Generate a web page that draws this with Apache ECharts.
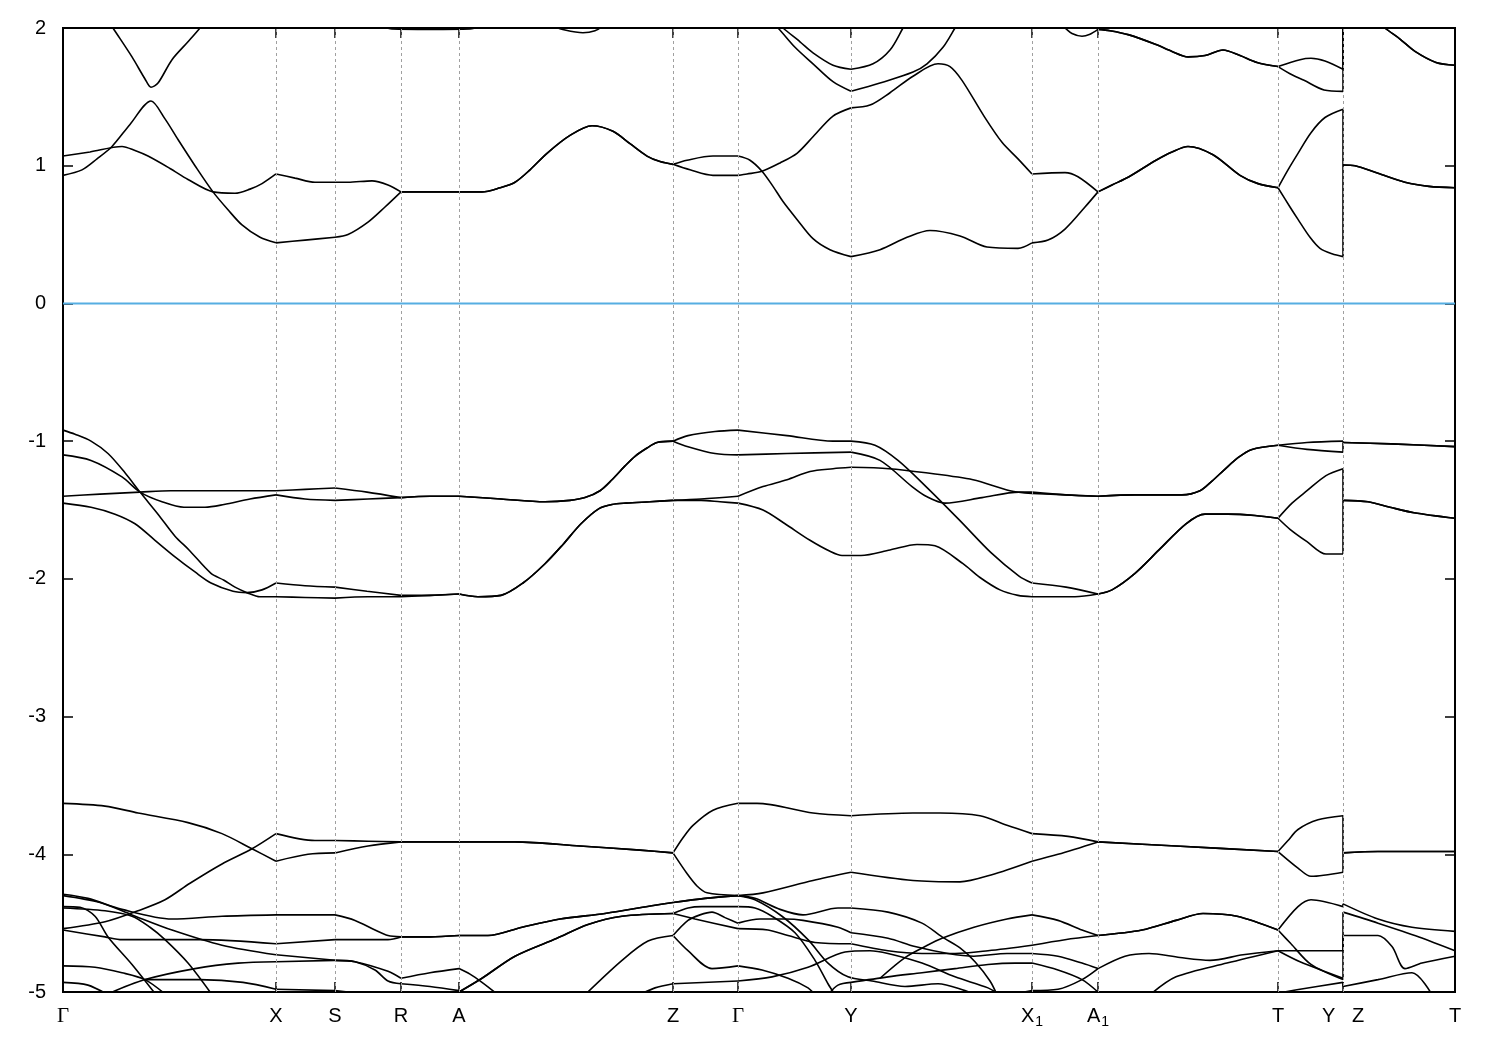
<!DOCTYPE html>
<html>
<head>
<meta charset="utf-8">
<script src="https://cdn.jsdelivr.net/npm/echarts@6/dist/echarts.min.js"></script>
<style>html,body{margin:0;padding:0;background:#fff;}#chart{width:1500px;height:1050px;}</style>
</head>
<body>
<div id="chart"></div>
<script>
// ---- high-symmetry path (k positions in path-length units) ----
const kTicks  = [63, 276, 335, 401, 459, 673, 738, 851, 1032, 1098, 1278, 1343, 1455];
const kLabels = ['Γ','X','S','R','A','Z','Γ','Y','X1','A1','T','YZ','T'];
const dashedK = [276, 335, 401, 459, 673, 738, 851, 1032, 1098, 1278, 1343];
const energyMin = -5, energyMax = 2, energyStep = 1;
const fermiLevel = 0;

// ---- shared band segments [k, E(eV)] ----
const cRZ = [[401,0.81],[430,0.81],[459,0.81],[482,0.81],[500,0.84],[515,0.88],[530,0.97],[547,1.09],[570,1.22],[592,1.29],[613,1.25],[630,1.16],[647,1.07],[660,1.03],[673,1.01]];
const cA1T = [[1098,0.81],[1112,0.86],[1129,0.92],[1156,1.04],[1172,1.10],[1188,1.14],[1213,1.08],[1240,0.93],[1258,0.87],[1278,0.84]];
const cZT = [[1343,1.005],[1355,1.00],[1378,0.945],[1405,0.88],[1429,0.85],[1455,0.84]];
const uA1T = [[1098,1.99],[1110,1.98],[1129,1.95],[1156,1.88],[1172,1.83],[1188,1.79],[1205,1.80],[1223,1.84],[1240,1.80],[1257,1.75],[1278,1.72]];
const uZT = [[1343,2.3],[1370,2.1],[1385,2.0],[1400,1.92],[1415,1.83],[1436,1.75],[1455,1.73]];
const vAZ = [[459,-2.11],[478,-2.13],[501,-2.12],[523,-2.03],[545,-1.89],[563,-1.75],[581,-1.60],[599,-1.49],[612,-1.46],[626,-1.45],[650,-1.44],[673,-1.43]];
const vRZ = [[401,-1.41],[430,-1.40],[459,-1.40],[501,-1.42],[545,-1.44],[570,-1.43],[585,-1.41],[600,-1.36],[612,-1.28],[625,-1.18],[635,-1.11],[647,-1.05],[657,-1.01],[673,-1.00]];
const vA1Tlow = [[1098,-2.11],[1112,-2.08],[1135,-1.96],[1159,-1.79],[1186,-1.60],[1205,-1.53],[1228,-1.53],[1255,-1.54],[1278,-1.56]];
const vA1Thigh = [[1098,-1.40],[1135,-1.39],[1182,-1.39],[1200,-1.36],[1212,-1.29],[1224,-1.21],[1238,-1.12],[1252,-1.06],[1278,-1.03]];
const vZT1 = [[1343,-1.01],[1391,-1.02],[1455,-1.04]];
const vZT2 = [[1343,-1.43],[1368,-1.44],[1390,-1.48],[1414,-1.52],[1455,-1.56]];
const bRZ = [[401,-3.91],[459,-3.91],[515,-3.91],[580,-3.94],[640,-3.97],[673,-3.99]];
const bA1T = [[1098,-3.91],[1176,-3.94],[1278,-3.98]];
const bZT = [[1343,-3.99],[1378,-3.98],[1455,-3.98]];
const dRA = [[401,-4.60],[430,-4.60],[459,-4.59]];
const dAZ = [[488,-4.59],[522,-4.53],[560,-4.47],[605,-4.43],[655,-4.37],[673,-4.35],[705,-4.32],[738,-4.30]];
const dAZ2 = [[455,-5.02],[459,-5.0],[482,-4.90],[515,-4.74],[557,-4.61],[588,-4.51],[622,-4.45],[673,-4.43]];
const dA1T = [[1098,-4.59],[1142,-4.55],[1176,-4.48],[1203,-4.43],[1237,-4.45],[1278,-4.55]];
const dZT1 = [[1343,-4.36],[1378,-4.47],[1412,-4.53],[1455,-4.56]];
const dZT2 = [[1343,-4.42],[1378,-4.50],[1419,-4.60],[1455,-4.70]];
const dZT3 = [[1343,-4.59],[1378,-4.59],[1392,-4.67],[1405,-4.83],[1422,-4.79],[1455,-4.74]];
const dZT4 = [[1343,-4.96],[1378,-4.91],[1412,-4.86],[1432,-5.02]];

// ---- conduction bands ----
const bandC1 = [[63,0.93],[82,0.97],[97,1.05],[112,1.14],[130,1.30],[151,1.47],[165,1.34],[178,1.19],[195,1.00],[213,0.81],[228,0.68],[242,0.57],[260,0.48],[276,0.44],[305,0.46],[335,0.48],[348,0.50],[368,0.59],[385,0.70], ...cRZ, [690,0.97],[713,0.93],[738,0.93],[747,0.94],[762,0.96],[780,1.02],[797,1.09],[813,1.21],[833,1.36],[851,1.42],[870,1.44],[890,1.53],[913,1.65],[938,1.74],[950,1.72],[962,1.62],[984,1.36],[1002,1.17],[1018,1.05],[1032,0.94],[1065,0.95],[1078,0.92], ...cA1T, [1290,0.70],[1298,0.61],[1310,0.48],[1320,0.40],[1332,0.36],[1343,0.34], ...cZT];
const bandC2 = [[63,1.07],[90,1.10],[122,1.14],[135,1.11],[148,1.07],[170,0.98],[188,0.90],[213,0.81],[235,0.80],[250,0.83],[262,0.87],[276,0.94],[295,0.91],[315,0.88],[348,0.88],[372,0.89],[388,0.86], ...cRZ, [687,1.04],[713,1.07],[738,1.07],[750,1.04],[762,0.96],[773,0.85],[783,0.74],[797,0.61],[813,0.47],[830,0.39],[851,0.34],[880,0.39],[907,0.48],[930,0.53],[960,0.49],[987,0.41],[1018,0.40],[1032,0.44],[1048,0.46],[1065,0.54],[1085,0.70], ...cA1T, [1288,0.97],[1298,1.09],[1311,1.24],[1325,1.35],[1343,1.41], ...cZT];
const bandU1 = [[1058,2.03],[1065,2.0],[1072,1.96],[1082,1.94],[1090,1.955], ...uA1T, [1300,1.77],[1311,1.78],[1325,1.76],[1343,1.70], ...uZT];
const bandU2 = [[1093,2.05], ...uA1T, [1292,1.66],[1304,1.62],[1324,1.55],[1343,1.54], ...uZT];
const bandUG = [[106,2.08],[113,2.0],[132,1.79],[145,1.63],[151,1.57],[158,1.60],[172,1.77],[188,1.90],[200,2.0],[205,2.05]];
const bandURA = [[378,2.03],[392,1.993],[430,1.99],[470,1.993],[485,2.03]];
const bandUdip = [[550,2.02],[565,1.985],[583,1.965],[595,1.98],[604,2.02]];
const bandUY1 = [[776,2.05],[783,2.0],[800,1.90],[813,1.82],[833,1.73],[851,1.70],[873,1.74],[890,1.84],[903,2.0],[907,2.05]];
const bandUY2 = [[770,2.05],[778,2.0],[795,1.86],[813,1.74],[833,1.61],[851,1.54],[880,1.60],[913,1.68],[927,1.74],[943,1.86],[955,2.0],[959,2.05]];

// ---- valence bands near -1 .. -2 eV ----
const bandV1 = [[63,-0.92],[75,-0.95],[91,-1.00],[108,-1.09],[125,-1.23],[140,-1.37],[158,-1.53],[175,-1.69],[189,-1.79],[211,-1.96],[224,-2.01],[235,-2.06],[247,-2.10],[260,-2.13],[276,-2.13],[305,-2.135],[335,-2.14],[368,-2.13],[401,-2.13],[430,-2.12], ...vAZ, [701,-1.43],[720,-1.44],[738,-1.45],[763,-1.50],[785,-1.60],[810,-1.72],[830,-1.80],[842,-1.83],[851,-1.83],[861,-1.83],[890,-1.79],[917,-1.75],[935,-1.76],[963,-1.89],[980,-1.99],[1000,-2.08],[1018,-2.12],[1032,-2.13],[1075,-2.13], ...vA1Tlow, [1290,-1.64],[1307,-1.73],[1326,-1.82],[1343,-1.82], ...vZT2];
const bandV2 = [[63,-1.10],[91,-1.14],[122,-1.26],[140,-1.37],[162,-1.44],[184,-1.48],[205,-1.48],[224,-1.46],[250,-1.42],[276,-1.39],[305,-1.42],[335,-1.43],[368,-1.42], ...vRZ, [688,-0.96],[715,-0.93],[738,-0.92],[787,-0.96],[833,-1.00],[851,-1.00],[875,-1.03],[898,-1.14],[926,-1.33],[959,-1.57],[991,-1.81],[1019,-1.98],[1032,-2.03],[1066,-2.06], ...vA1Tlow, [1292,-1.45],[1307,-1.36],[1326,-1.25],[1343,-1.20], ...vZT2];
const bandV3 = [[63,-1.40],[100,-1.385],[140,-1.37],[171,-1.36],[220,-1.36],[276,-1.36],[305,-1.35],[335,-1.34],[367,-1.37], ...vRZ, [688,-1.04],[715,-1.09],[738,-1.10],[787,-1.09],[851,-1.08],[880,-1.14],[912,-1.33],[926,-1.40],[945,-1.45],[982,-1.41],[1019,-1.37],[1032,-1.37],[1066,-1.39], ...vA1Thigh, [1307,-1.01],[1343,-1.00], ...vZT1];
const bandV4 = [[63,-1.45],[91,-1.48],[115,-1.53],[135,-1.60],[155,-1.72],[175,-1.84],[195,-1.95],[211,-2.03],[233,-2.09],[247,-2.10],[262,-2.08],[276,-2.03],[305,-2.05],[335,-2.06],[367,-2.09],[401,-2.12],[430,-2.12], ...vAZ, [701,-1.42],[738,-1.40],[763,-1.33],[787,-1.28],[810,-1.22],[833,-1.20],[851,-1.19],[889,-1.20],[926,-1.23],[973,-1.28],[1010,-1.36],[1032,-1.38],[1065,-1.39], ...vA1Thigh, [1307,-1.06],[1343,-1.08], ...vZT1];

// ---- deep bands near -3.6 .. -5 eV ----
const bandB1 = [[63,-3.63],[105,-3.65],[138,-3.70],[188,-3.77],[222,-3.85],[252,-3.96],[276,-4.05],[308,-4.00],[335,-3.99],[368,-3.94], ...bRZ, [683,-3.88],[693,-3.79],[713,-3.68],[738,-3.63],[757,-3.63],[813,-3.70],[851,-3.72],[913,-3.70],[940,-3.70],[980,-3.72],[1007,-3.79],[1032,-3.85],[1068,-3.87], ...bA1T, [1288,-3.90],[1298,-3.82],[1318,-3.75],[1343,-3.72], ...bZT];
const bandB2 = [[63,-4.54],[105,-4.49],[138,-4.41],[165,-4.33],[190,-4.21],[222,-4.07],[252,-3.96],[276,-3.85],[315,-3.90],[335,-3.90],[368,-3.905], ...bRZ, [687,-4.14],[697,-4.23],[707,-4.28],[738,-4.30],[763,-4.28],[813,-4.19],[851,-4.13],[913,-4.19],[960,-4.20],[991,-4.15],[1032,-4.05],[1058,-4.00], ...bA1T, [1298,-4.10],[1311,-4.16],[1343,-4.13], ...bZT];
const bandD1 = [[63,-4.29],[88,-4.32],[122,-4.40],[172,-4.47],[222,-4.45],[276,-4.44],[335,-4.44],[355,-4.48],[375,-4.55],[388,-4.59], ...dRA, ...dAZ, [755,-4.33],[782,-4.45],[808,-4.62],[828,-4.79],[848,-4.89],[872,-4.92],[905,-4.96],[938,-4.94],[965,-4.99],[975,-5.02]];
const bandD2 = [[63,-4.55],[105,-4.60],[122,-4.62],[200,-4.62],[276,-4.65],[335,-4.62],[388,-4.62], ...dRA, ...dAZ, [755,-4.32],[780,-4.40],[803,-4.44],[838,-4.39],[851,-4.39],[888,-4.42],[922,-4.50],[942,-4.60],[960,-4.68],[975,-4.78],[990,-4.92],[997,-5.02]];
const bandD3 = [[63,-4.30],[100,-4.35],[132,-4.44],[172,-4.55],[222,-4.66],[276,-4.73],[335,-4.77],[355,-4.78],[388,-4.85],[401,-4.90],[430,-4.86],[459,-4.83],[470,-4.87],[482,-4.93],[498,-5.02]];
const bandD4 = [[106,-5.02],[145,-4.91],[195,-4.83],[238,-4.79],[276,-4.78],[335,-4.77],[355,-4.78],[375,-4.84],[388,-4.92],[401,-4.94],[430,-4.96],[459,-4.99],[472,-5.02]];
const bandD5 = [[63,-4.38],[80,-4.385],[95,-4.45],[108,-4.60],[132,-4.80],[156,-5.02]];
const bandD6 = [[63,-4.39],[105,-4.41],[132,-4.45],[150,-4.53],[165,-4.62],[188,-4.79],[212,-5.02]];
const bandD7 = [[63,-4.81],[95,-4.82],[122,-4.86],[145,-4.91],[166,-5.02]];
const bandD8 = [[63,-4.93],[88,-4.95],[108,-5.02]];
const bandD9 = [[145,-4.91],[200,-4.91],[243,-4.93],[276,-4.98],[335,-4.99],[372,-5.02]];
const bandD10 = [...dAZ2, [688,-4.39],[702,-4.38],[738,-4.38],[755,-4.39],[772,-4.45],[795,-4.57],[815,-4.77],[828,-4.94],[835,-5.02]];
const bandD11 = [...dAZ2, [695,-4.47],[738,-4.54],[768,-4.55],[788,-4.59],[815,-4.64],[851,-4.65],[888,-4.70],[922,-4.72],[955,-4.72],[988,-4.70],[1032,-4.66],[1065,-4.62], ...dA1T, [1298,-4.38],[1311,-4.33],[1343,-4.38], ...dZT1];
const bandD12 = [[585,-5.02],[622,-4.77],[648,-4.63],[673,-4.59],[688,-4.48],[700,-4.44],[712,-4.42],[725,-4.46],[738,-4.50],[760,-4.47],[785,-4.47],[803,-4.48],[838,-4.53],[851,-4.57],[888,-4.61],[915,-4.67],[948,-4.72],[974,-4.74],[1007,-4.72],[1032,-4.72],[1058,-4.74],[1082,-4.79],[1098,-4.83],[1125,-4.74],[1149,-4.72],[1180,-4.75],[1210,-4.77],[1243,-4.73],[1278,-4.70],[1300,-4.78],[1343,-4.90]];
const bandD13 = [[673,-4.59],[688,-4.70],[712,-4.83],[738,-4.81],[762,-4.84],[788,-4.90],[808,-4.97],[815,-5.02]];
const bandD14 = [[640,-5.02],[655,-4.97],[673,-4.94],[738,-4.92],[772,-4.89],[808,-4.82],[845,-4.71],[870,-4.70],[888,-4.72],[922,-4.79],[955,-4.89],[988,-4.97],[1000,-5.02]];
const bandD15 = [[828,-5.02],[838,-4.95],[851,-4.93],[888,-4.89],[922,-4.86],[955,-4.83],[988,-4.80],[1015,-4.79],[1032,-4.79],[1058,-4.84],[1082,-4.91],[1098,-5.0],[1102,-5.02]];
const bandD16 = [[880,-4.90],[905,-4.75],[925,-4.67],[942,-4.61],[974,-4.53],[1007,-4.47],[1032,-4.44],[1058,-4.48],[1082,-4.55], ...dA1T, [1291,-4.65],[1311,-4.80],[1343,-4.91], ...dZT3];
const bandD18 = [[1010,-5.02],[1032,-4.99],[1058,-4.98],[1082,-4.91],[1098,-4.83]];
const bandT2 = [[1150,-5.02],[1176,-4.89],[1227,-4.79],[1278,-4.70],[1310,-4.70],[1343,-4.70], ...dZT2];
const bandT3 = [[1270,-5.02],[1300,-4.98],[1343,-4.93], ...dZT4];

const bands = [bandC1, bandC2, bandU1, bandU2, bandUG, bandURA, bandUdip, bandUY1, bandUY2,
  bandV1, bandV2, bandV3, bandV4, bandB1, bandB2,
  bandD1, bandD2, bandD3, bandD4, bandD5, bandD6, bandD7, bandD8, bandD9, bandD10,
  bandD11, bandD12, bandD13, bandD14, bandD15, bandD16, bandD18, bandT2, bandT3];

// remove consecutive duplicate points produced by joining segments
function dedupe(arr) {
  const out = [];
  for (const p of arr) {
    const q = out[out.length - 1];
    if (!q || q[0] !== p[0] || q[1] !== p[1]) out.push(p);
  }
  return out;
}
// split a band into smooth pieces between high-symmetry points, and vertical jumps
const tickSet = new Set(kTicks);
function splitBand(arr) {
  const pieces = [], jumps = [];
  let cur = [];
  for (const p of arr) {
    const q = cur[cur.length - 1];
    if (q && q[0] === p[0]) {
      if (cur.length > 1) pieces.push(cur);
      jumps.push([q, p]); cur = [p];
      continue;
    }
    cur.push(p);
    if (tickSet.has(p[0]) && cur.length > 1) { pieces.push(cur); cur = [p]; }
  }
  if (cur.length > 1) pieces.push(cur);
  return {pieces, jumps};
}

const chart = echarts.init(document.getElementById('chart'), null, {renderer: 'canvas'});
const sans = '"Liberation Sans", Arial, Helvetica, sans-serif';
const rich = {
  m: {fontSize: 20, fontFamily: sans, color: '#000', verticalAlign: 'top', lineHeight: 22},
  g: {fontSize: 21, fontFamily: '"Liberation Serif", "DejaVu Serif", serif', color: '#000', verticalAlign: 'top', lineHeight: 22},
  s: {fontSize: 14, fontFamily: sans, color: '#000', verticalAlign: 'top', lineHeight: 22, padding: [9, 0, 0, 1]}
};
function kFormatter(v) {
  const i = kTicks.indexOf(Math.round(v));
  if (i < 0) return '';
  const lab = kLabels[i];
  if (lab === 'Γ') return '{g|Γ}';
  if (lab === 'X1') return '{m|X}{s|1}';
  if (lab === 'A1') return '{m|A}{s|1}';
  if (lab === 'YZ') return '{m|Y   Z}';
  return '{m|' + lab + '}';
}

const lineStyle = {color: '#000', width: 1.6};
const series = [];
series.push({
  type: 'line', data: [[kTicks[0], fermiLevel], [kTicks[kTicks.length - 1], fermiLevel]],
  showSymbol: false, lineStyle: {color: '#56aee2', width: 2}, z: 2, silent: true, animation: false,
  markLine: {
    silent: true, symbol: ['none', 'none'], label: {show: false}, animation: false,
    lineStyle: {color: '#a0a0a0', type: [3, 3], width: 1},
    data: dashedK.map(k => ({xAxis: k}))
  }
});
bands.forEach(b => {
  const {pieces, jumps} = splitBand(dedupe(b));
  pieces.forEach(pc => series.push({
    type: 'line', data: pc, showSymbol: false, smooth: 0.3,
    lineStyle: lineStyle, z: 3, silent: true, animation: false, clip: true
  }));
  jumps.forEach(j => series.push({
    type: 'line', data: j, showSymbol: false, smooth: false,
    lineStyle: lineStyle, z: 3, silent: true, animation: false, clip: true
  }));
});

const tickStyle = {show: true, inside: true, length: 10, lineStyle: {color: '#000', width: 1.5}};
chart.setOption({
  animation: false,
  backgroundColor: '#fff',
  grid: {left: 63, right: 45, top: 28, bottom: 58, show: true, borderColor: '#000', borderWidth: 2, backgroundColor: 'transparent'},
  xAxis: [
    {type: 'value', min: kTicks[0], max: kTicks[kTicks.length - 1], position: 'bottom',
     axisLine: {show: false, onZero: false}, splitLine: {show: false},
     axisTick: Object.assign({customValues: kTicks}, tickStyle),
     axisLabel: {customValues: kTicks, formatter: kFormatter, rich: rich, margin: 14, color: '#000'}},
    {type: 'value', min: kTicks[0], max: kTicks[kTicks.length - 1], position: 'top',
     axisLine: {show: false, onZero: false}, splitLine: {show: false},
     axisTick: Object.assign({customValues: kTicks}, tickStyle),
     axisLabel: {show: false}}
  ],
  yAxis: [
    {type: 'value', min: energyMin, max: energyMax, interval: energyStep, position: 'left',
     axisLine: {show: false, onZero: false}, splitLine: {show: false}, axisTick: tickStyle,
     axisLabel: {fontSize: 20, fontFamily: sans, color: '#000', margin: 17}},
    {type: 'value', min: energyMin, max: energyMax, interval: energyStep, position: 'right',
     axisLine: {show: false, onZero: false}, splitLine: {show: false}, axisTick: tickStyle,
     axisLabel: {show: false}}
  ],
  series: series
});
</script>
</body>
</html>
